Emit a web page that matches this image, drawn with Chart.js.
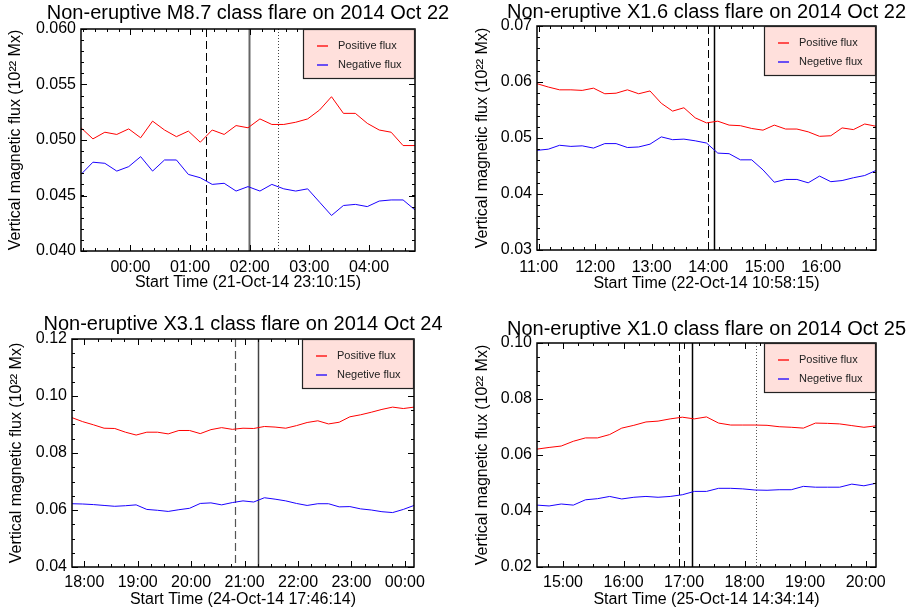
<!DOCTYPE html>
<html>
<head>
<meta charset="utf-8">
<title>Non-eruptive flares, October 2014</title>
<script src="https://cdn.jsdelivr.net/npm/chart.js@4.4.1/dist/chart.umd.min.js"></script>
<style>
    body { margin: 0; background: #fff; width: 909px; height: 616px; position: relative; overflow: hidden; }
    canvas { position: absolute; }
</style>
</head>
<body>
<canvas id="flare1" width="455" height="300" style="left:0;top:0"></canvas>
<canvas id="flare2" width="454" height="300" style="left:455px;top:0"></canvas>
<canvas id="flare3" width="455" height="311" style="left:0;top:305px"></canvas>
<canvas id="flare4" width="454" height="311" style="left:455px;top:305px"></canvas>
<script>
// magnetogram cadence, minutes
const cadence = 12;

// M8.7, 2014 Oct 22
const startDate1 = '21-Oct-14';
const startTime1 = '23:10:15';
const posFlux1 = [0.0511, 0.0501, 0.0507, 0.0505, 0.0510, 0.0502, 0.0517, 0.0509, 0.0503, 0.0508,
                  0.0498, 0.0509, 0.0505, 0.0513, 0.0511, 0.0519, 0.0514, 0.0514, 0.0516, 0.0519,
                  0.0527, 0.0539, 0.0524, 0.0524, 0.0515, 0.0509, 0.0507, 0.0495, 0.0495];
const negFlux1 = [0.0469, 0.0480, 0.0479, 0.0472, 0.0476, 0.0485, 0.0472, 0.0482, 0.0482, 0.0469,
                  0.0466, 0.0460, 0.0461, 0.0454, 0.0458, 0.0454, 0.0460, 0.0456, 0.0454, 0.0456,
                  0.0444, 0.0432, 0.0441, 0.0442, 0.0440, 0.0445, 0.0446, 0.0446, 0.0437];
const flareTimes1 = ['01:16', '01:59', '02:28'];   // start, peak, end

// X1.6, 2014 Oct 22
const startDate2 = '22-Oct-14';
const startTime2 = '10:58:15';
const posFlux2 = [0.0597, 0.0591, 0.0586, 0.0586, 0.0585, 0.0589, 0.0579, 0.0580, 0.0586, 0.0579,
                  0.0584, 0.0562, 0.0548, 0.0554, 0.0536, 0.0527, 0.0530, 0.0523, 0.0522, 0.0517,
                  0.0514, 0.0523, 0.0516, 0.0516, 0.0511, 0.0503, 0.0504, 0.0518, 0.0515, 0.0525,
                  0.0521];
const negFlux2 = [0.0478, 0.0480, 0.0487, 0.0485, 0.0486, 0.0482, 0.0490, 0.0490, 0.0483, 0.0484,
                  0.0489, 0.0502, 0.0497, 0.0498, 0.0495, 0.0491, 0.0473, 0.0472, 0.0461, 0.0461,
                  0.0443, 0.0421, 0.0426, 0.0426, 0.0420, 0.0432, 0.0422, 0.0424, 0.0429, 0.0433,
                  0.0442];
const flareTimes2 = ['14:00', '14:06'];

// X3.1, 2014 Oct 24
const startDate3 = '24-Oct-14';
const startTime3 = '17:46:14';
const posFlux3 = [0.0924, 0.0910, 0.0899, 0.0887, 0.0886, 0.0873, 0.0863, 0.0873, 0.0873, 0.0867,
                  0.0879, 0.0879, 0.0868, 0.0882, 0.0889, 0.0883, 0.0887, 0.0886, 0.0893, 0.0891,
                  0.0887, 0.0896, 0.0907, 0.0913, 0.0902, 0.0908, 0.0927, 0.0934, 0.0943, 0.0953,
                  0.0961, 0.0956, 0.0961];
const negFlux3 = [0.0622, 0.0621, 0.0619, 0.0616, 0.0613, 0.0615, 0.0618, 0.0602, 0.0599, 0.0595,
                  0.0601, 0.0606, 0.0623, 0.0625, 0.0618, 0.0626, 0.0632, 0.0628, 0.0643, 0.0638,
                  0.0632, 0.0623, 0.0616, 0.0622, 0.0622, 0.0611, 0.0612, 0.0604, 0.0600, 0.0594,
                  0.0591, 0.0602, 0.0616];
const flareTimes3 = ['20:49', '21:15'];

// X1.0, 2014 Oct 25
const startDate4 = '25-Oct-14';
const startTime4 = '14:34:14';
const posFlux4 = [0.0621, 0.0627, 0.0632, 0.0649, 0.0661, 0.0661, 0.0673, 0.0696, 0.0706, 0.0718,
                  0.0721, 0.0729, 0.0735, 0.0729, 0.0736, 0.0714, 0.0707, 0.0707, 0.0707, 0.0706,
                  0.0701, 0.0699, 0.0696, 0.0714, 0.0713, 0.0711, 0.0705, 0.0699, 0.0704];
const negFlux4 = [0.0421, 0.0418, 0.0425, 0.0421, 0.0440, 0.0444, 0.0452, 0.0443, 0.0449, 0.0452,
                  0.0449, 0.0452, 0.0458, 0.0470, 0.0470, 0.0481, 0.0481, 0.0479, 0.0475, 0.0474,
                  0.0476, 0.0476, 0.0488, 0.0485, 0.0485, 0.0485, 0.0496, 0.0490, 0.0499];
const flareTimes4 = ['16:55', '17:08', '18:11'];

const FONT = '"Liberation Sans", Arial, Helvetica, sans-serif';
Chart.defaults.font.family = FONT;
Chart.defaults.color = '#000';

const RED = '#ff0000';
const BLUE = '#1a00ff';

// "HH:MM[:SS]" -> minutes of the day
function toMinutes(clock) {
    const p = clock.split(':').map(Number);
    return p[0] * 60 + p[1] + (p[2] || 0) / 60;
}

// minutes after the run start, wrapping past midnight
function sinceStart(start, clock) {
    return (toMinutes(clock) - toMinutes(start) + 1440) % 1440;
}

function clockLabel(start, v) {
    const m = Math.round(toMinutes(start) + v) % 1440;
    const hh = String(Math.floor(m / 60)).padStart(2, '0');
    const mm = String(m % 60).padStart(2, '0');
    return hh + ':' + mm;
}

// offsets (minutes from start) that fall on whole multiples of step
function clockSteps(start, span, step) {
    const s = toMinutes(start);
    const out = [];
    for (let t = Math.ceil(s / step) * step; t - s <= span + 1e-6; t += step) out.push(t - s);
    return out;
}

function series(values) {
    return values.map((v, i) => ({ x: i * cadence, y: v }));
}

// title, box, inward ticks on all four sides, flare markers and the legend panel
const framePlugin = {
    id: 'idlFrame',
    beforeDatasetsDraw(chart, args, opts) {
        const { ctx, chartArea: a, scales: { x } } = chart;
        ctx.save();
        opts.markers.forEach(m => {
            const px = Math.round(x.getPixelForValue(m.value)) + 0.5;
            ctx.strokeStyle = m.color;
            ctx.lineWidth = m.width;
            ctx.setLineDash(m.dash);
            ctx.beginPath();
            ctx.moveTo(px, a.top);
            ctx.lineTo(px, a.bottom);
            ctx.stroke();
        });
        ctx.restore();
    },
    afterDatasetsDraw(chart, args, opts) {
        const { ctx, chartArea: a, scales: { x, y } } = chart;
        ctx.save();

        // plot title, centred over the plotting area
        ctx.fillStyle = '#000';
        ctx.font = '20px ' + FONT;
        ctx.textAlign = 'center';
        ctx.textBaseline = 'middle';
        ctx.fillText(opts.title, (a.left + a.right) / 2, opts.titleY);

        ctx.strokeStyle = '#000';
        ctx.lineWidth = 1;
        ctx.setLineDash([]);

        const span = x.max - x.min;
        const xMajor = clockSteps(opts.start, span, 60);
        const xMinor = clockSteps(opts.start, span, opts.xMinor);
        const yMajor = y.ticks.map(t => t.value);
        const yMinor = [];
        for (let v = y.min; v <= y.max + 1e-9; v += opts.yMinor) yMinor.push(v);

        ctx.beginPath();
        const vTick = (vals, len) => vals.forEach(v => {
            const px = Math.round(x.getPixelForValue(v)) + 0.5;
            ctx.moveTo(px, a.bottom); ctx.lineTo(px, a.bottom - len);
            ctx.moveTo(px, a.top); ctx.lineTo(px, a.top + len);
        });
        const hTick = (vals, len) => vals.forEach(v => {
            const py = Math.round(y.getPixelForValue(v)) + 0.5;
            ctx.moveTo(a.left, py); ctx.lineTo(a.left + len, py);
            ctx.moveTo(a.right, py); ctx.lineTo(a.right - len, py);
        });
        vTick(xMinor, 3);
        vTick(xMajor, 6);
        hTick(yMinor, 3);
        hTick(yMajor, 6);
        ctx.stroke();

        ctx.lineWidth = 1.5;
        ctx.strokeRect(a.left, a.top, a.right - a.left, a.bottom - a.top);

        // legend panel in the upper right corner
        const w = 112, h = 50;
        const lx = a.right - w, ly = a.top;
        ctx.fillStyle = '#ffe0dc';
        ctx.fillRect(lx, ly, w, h);
        ctx.lineWidth = 1.2;
        ctx.strokeStyle = '#222';
        ctx.strokeRect(lx + 0.5, ly + 0.5, w - 1, h - 1);
        ctx.font = '11px ' + FONT;
        ctx.textAlign = 'left';
        ctx.textBaseline = 'middle';
        chart.data.datasets.forEach((ds, i) => {
            const ry = Math.round(ly + 17 + i * 19);
            ctx.strokeStyle = ds.borderColor;
            ctx.lineWidth = 1.3;
            ctx.beginPath();
            ctx.moveTo(lx + 14, ry);
            ctx.lineTo(lx + 25, ry);
            ctx.stroke();
            ctx.fillStyle = '#222';
            ctx.fillText(ds.label, lx + 35, ry);
        });
        ctx.restore();
    }
};

const dash = [8, 4];
const dots = [1, 2];

const panels = [
    {
        id: 'flare1', w: 455, h: 300,
        title: 'Non-eruptive M8.7 class flare on 2014 Oct 22',
        date: startDate1, start: startTime1, pos: posFlux1, neg: negFlux1, negLabel: 'Negative flux',
        flare: flareTimes1,
        styles: [
            { color: '#000', width: 1, dash: dash },
            { color: '#666', width: 2, dash: [] },
            { color: '#444', width: 1, dash: dots }
        ],
        yMin: 0.040, yMax: 0.060, yStep: 0.005, yMinor: 0.001, digits: 3, xMinor: 12,
        area: { left: 81, top: 29, right: 415, bottom: 251 },
        titleY: 13.5, yTitlePad: 6, xTitlePad: 8, xTickPad: 7
    },
    {
        id: 'flare2', w: 454, h: 300,
        title: 'Non-eruptive X1.6 class flare on 2014 Oct 22',
        date: startDate2, start: startTime2, pos: posFlux2, neg: negFlux2, negLabel: 'Negetive flux',
        flare: flareTimes2,
        styles: [
            { color: '#000', width: 1, dash: dash },
            { color: '#000', width: 1.5, dash: [] }
        ],
        yMin: 0.03, yMax: 0.07, yStep: 0.01, yMinor: 0.002, digits: 2, xMinor: 12,
        area: { left: 82, top: 26, right: 421, bottom: 250 },
        titleY: 12, yTitlePad: 18, xTitlePad: 7, xTickPad: 8
    },
    {
        id: 'flare3', w: 455, h: 311,
        title: 'Non-eruptive X3.1 class flare on 2014 Oct 24',
        date: startDate3, start: startTime3, pos: posFlux3, neg: negFlux3, negLabel: 'Negetive flux',
        flare: flareTimes3,
        styles: [
            { color: '#555', width: 1.2, dash: dash },
            { color: '#444', width: 1.5, dash: [] }
        ],
        yMin: 0.04, yMax: 0.12, yStep: 0.02, yMinor: 0.005, digits: 2, xMinor: 15,
        area: { left: 72, top: 34, right: 414, bottom: 262 },
        titleY: 19, yTitlePad: 7, xTitlePad: 7, xTickPad: 6
    },
    {
        id: 'flare4', w: 454, h: 311,
        title: 'Non-eruptive X1.0 class flare on 2014 Oct 25',
        date: startDate4, start: startTime4, pos: posFlux4, neg: negFlux4, negLabel: 'Negetive flux',
        flare: flareTimes4,
        styles: [
            { color: '#000', width: 1, dash: dash },
            { color: '#000', width: 1.5, dash: [] },
            { color: '#555', width: 1, dash: dots }
        ],
        yMin: 0.02, yMax: 0.10, yStep: 0.02, yMinor: 0.005, digits: 2, xMinor: 15,
        area: { left: 82, top: 38, right: 421, bottom: 262 },
        titleY: 24, yTitlePad: 18, xTitlePad: 7, xTickPad: 6
    }
];

panels.forEach(p => {
    const span = (p.pos.length - 1) * cadence;
    const markers = p.flare.map((t, i) => Object.assign({ value: sinceStart(p.start, t) }, p.styles[i]));

    new Chart(document.getElementById(p.id), {
        type: 'line',
        data: {
            datasets: [
                { label: 'Positive flux', data: series(p.pos), borderColor: RED, borderWidth: 1, pointRadius: 0, tension: 0 },
                { label: p.negLabel, data: series(p.neg), borderColor: BLUE, borderWidth: 1, pointRadius: 0, tension: 0 }
            ]
        },
        options: {
            responsive: false,
            animation: false,
            layout: { padding: { left: 0, top: p.area.top, bottom: 0, right: p.w - p.area.right } },
            plugins: {
                legend: { display: false },
                tooltip: { enabled: false },
                title: { display: false },
                idlFrame: {
                    title: p.title,
                    titleY: p.titleY,
                    start: p.start,
                    markers: markers,
                    xMinor: p.xMinor,
                    yMinor: p.yMinor
                }
            },
            scales: {
                x: {
                    type: 'linear',
                    min: 0,
                    max: span,
                    grid: { display: false, drawTicks: false },
                    border: { display: false },
                    afterBuildTicks: axis => {
                        axis.ticks = clockSteps(p.start, span, 60).map(v => ({ value: v }));
                    },
                    afterFit: axis => { axis.height = p.h - p.area.bottom; },
                    ticks: {
                        autoSkip: false,
                        maxRotation: 0,
                        padding: p.xTickPad,
                        font: { size: 16 },
                        callback: v => clockLabel(p.start, v)
                    },
                    title: {
                        display: true,
                        text: 'Start Time (' + p.date + ' ' + p.start + ')',
                        font: { size: 16 },
                        padding: { top: 0, bottom: p.xTitlePad }
                    }
                },
                y: {
                    min: p.yMin,
                    max: p.yMax,
                    grid: { display: false, drawTicks: false },
                    border: { display: false },
                    afterFit: axis => { axis.width = p.area.left; },
                    ticks: {
                        stepSize: p.yStep,
                        padding: 5,
                        font: { size: 16 },
                        callback: v => v.toFixed(p.digits)
                    },
                    title: {
                        display: true,
                        text: 'Vertical magnetic flux (10²² Mx)',
                        font: { size: 16 },
                        padding: { top: p.yTitlePad, bottom: 0 }
                    }
                }
            }
        },
        plugins: [framePlugin]
    });
});
</script>
</body>
</html>
